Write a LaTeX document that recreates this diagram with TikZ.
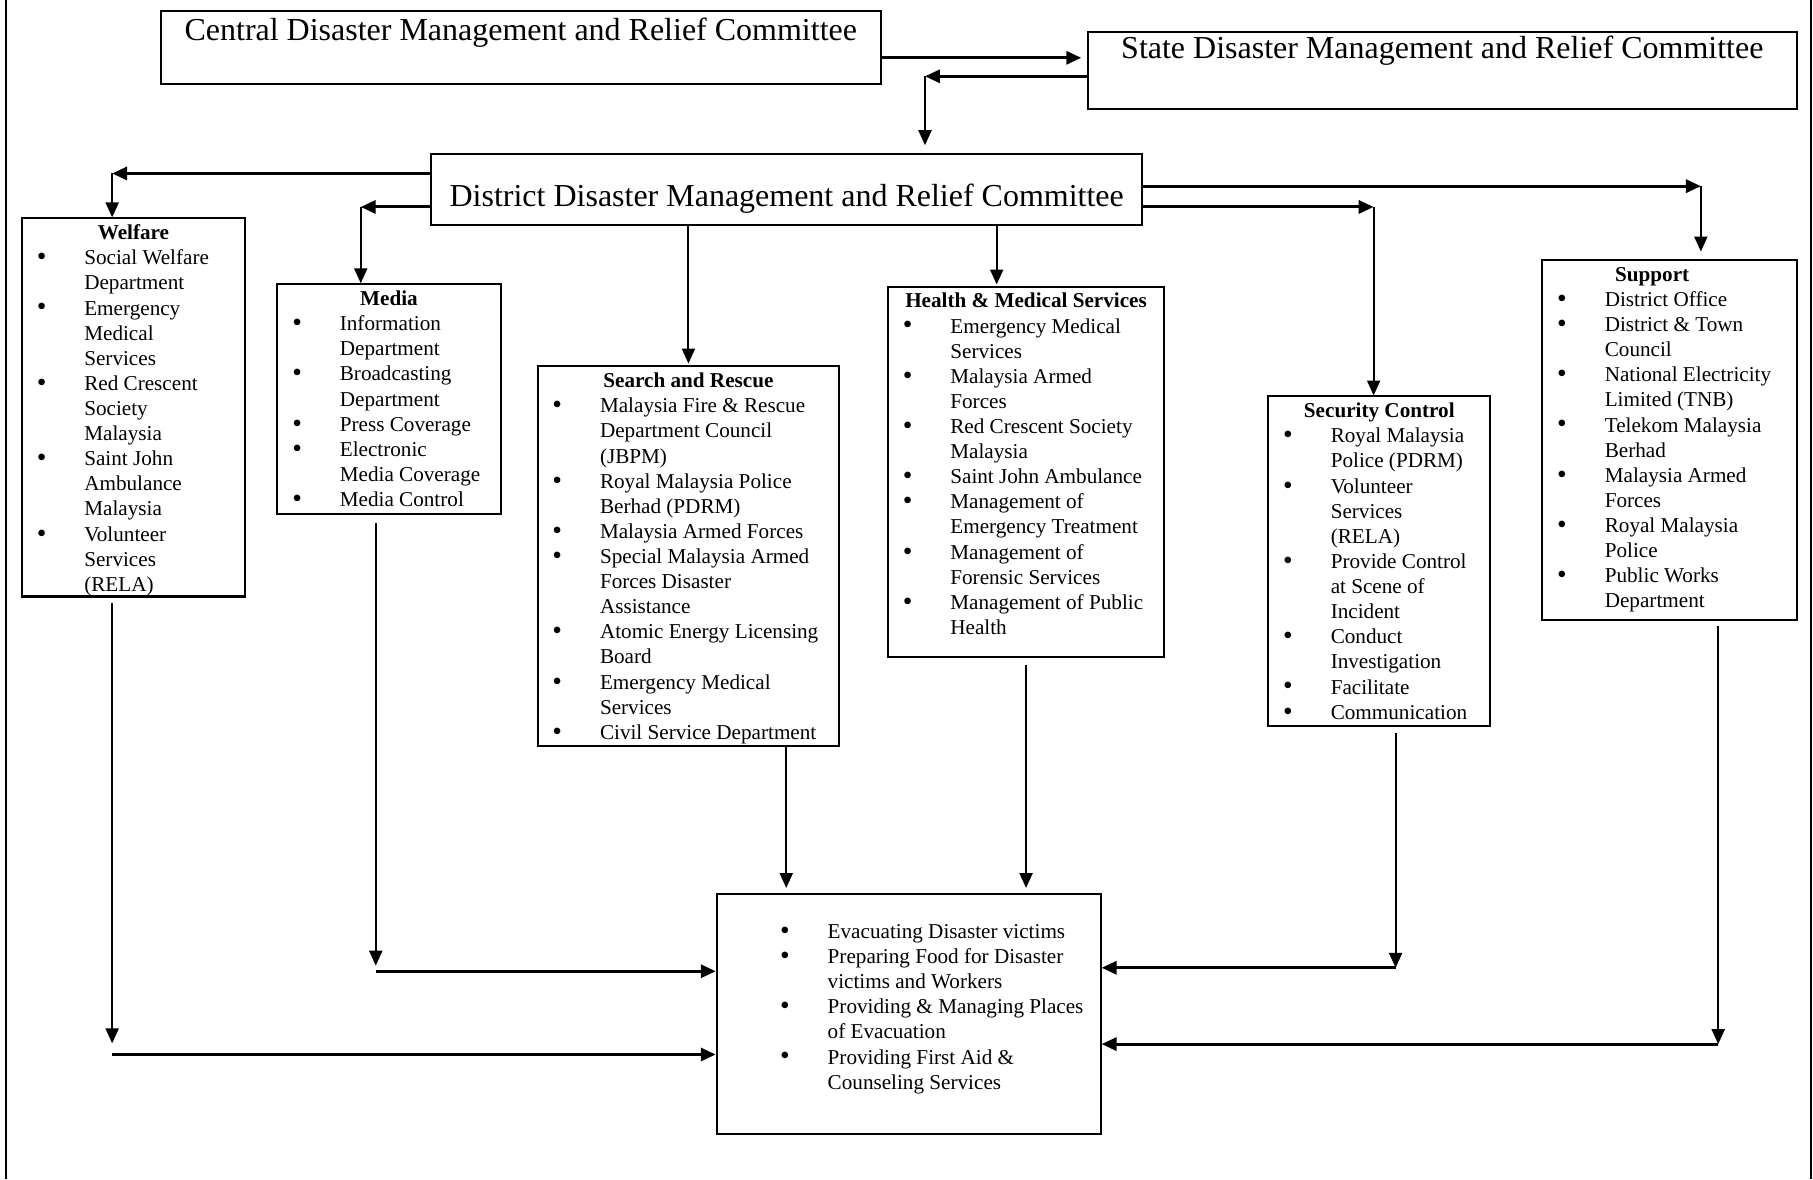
\documentclass[tikz,border=0pt]{standalone}
\usepackage{fontspec}
\setmainfont{Liberation Serif}
\usetikzlibrary{positioning,calc,arrows.meta}
\tikzset{>={Triangle[length=8pt,width=7pt]}}

\newlength\pxu
\setlength\pxu{0.62pt}
\newcommand{\ttl}[1]{{\centering\textbf{#1}\strut\par}}
\newcommand{\dotb}{\raisebox{-0.5pt}{\scalebox{1.3}{\textbullet}}}
\newcommand{\itm}[1]{\par\hangindent=33.5pt\hangafter=1\noindent\makebox[33.5pt][l]{\hspace{8pt}\dotb}#1}

\begin{document}
\begin{tikzpicture}[x=0.62pt,y=-0.62pt,
  top/.style={draw,line width=1.1pt,inner sep=0pt,anchor=north west,font=\fontsize{17.15}{20}\selectfont},
  grp/.style={draw,line width=1.1pt,inner sep=0pt,anchor=north west,font=\fontsize{11.35}{13.47}\selectfont,text height=11.4pt},
  ln/.style={line width=1pt},
  hl/.style={line width=1.6pt}]
\useasboundingbox (0,0) rectangle (1568,1020);
% page frame
\draw[line width=1.2pt] (5,0) -- (5,1020);
\draw[line width=1.2pt] (1566,0) -- (1566,1020);

% committees
\node[top,minimum width=623*\pxu,text height=15.5pt,text depth=63*\pxu-15.5pt] (central) at (138,9) {Central Disaster Management and Relief Committee};
\node[top,minimum width=613*\pxu,text height=14.3pt,text depth=66*\pxu-14.3pt] (state) at (940,27) {State Disaster Management and Relief Committee};
\node[top,minimum width=615*\pxu,text height=28.6pt,text depth=62*\pxu-28.6pt] (district) at (372,132) {District Disaster Management and Relief Committee};

% groups
\node[grp,text depth=327*\pxu-11.4pt] (welfare) at (18,188) {\parbox[t]{193\pxu}{\ttl{Welfare}%
  \itm{Social Welfare\\Department}\itm{Emergency\\Medical\\Services}\itm{Red Crescent\\Society\\Malaysia}%
  \itm{Saint John\\Ambulance\\Malaysia}\itm{Volunteer\\Services\\(RELA)}}};
\node[grp,text depth=199*\pxu-11.4pt] (media) at (239,245) {\parbox[t]{193\pxu}{\ttl{Media}%
  \itm{Information\\Department}\itm{Broadcasting\\Department}\itm{Press Coverage}%
  \itm{Electronic\\Media Coverage}\itm{Media Control}}};
\node[grp,text depth=328*\pxu-11.4pt] (sar) at (464,316) {\parbox[t]{261\pxu}{\ttl{Search and Rescue}%
  \itm{Malaysia Fire \& Rescue\\Department Council\\(JBPM)}\itm{Royal Malaysia Police\\Berhad (PDRM)}%
  \itm{Malaysia Armed Forces}\itm{Special Malaysia Armed\\Forces Disaster\\Assistance}%
  \itm{Atomic Energy Licensing\\Board}\itm{Emergency Medical\\Services}\itm{Civil Service Department}}};
\node[grp,text depth=320*\pxu-11.4pt] (health) at (767,247) {\parbox[t]{239\pxu}{\ttl{Health \& Medical Services}%
  \itm{Emergency Medical\\Services}\itm{Malaysia Armed\\Forces}\itm{Red Crescent Society\\Malaysia}%
  \itm{Saint John Ambulance}\itm{Management of\\Emergency Treatment}\itm{Management of\\Forensic Services}%
  \itm{Management of Public\\Health}}};
\node[grp,text depth=285*\pxu-11.4pt] (security) at (1096,342) {\parbox[t]{192\pxu}{\ttl{Security Control}%
  \itm{Royal Malaysia\\Police (PDRM)}\itm{Volunteer\\Services\\(RELA)}\itm{Provide Control\\at Scene of\\Incident}%
  \itm{Conduct\\Investigation}\itm{Facilitate}\itm{Communication}}};
\node[grp,text depth=311*\pxu-11.4pt] (support) at (1333,224) {\parbox[t]{220\pxu}{\ttl{Support\hspace*{30\pxu}}%
  \itm{District Office}\itm{District \& Town\\Council}\itm{National Electricity\\Limited (TNB)}%
  \itm{Telekom Malaysia\\Berhad}\itm{Malaysia Armed\\Forces}\itm{Royal Malaysia\\Police}\itm{Public Works\\Department}}};
\node[grp,text height=24pt,text depth=208*\pxu-24pt] (tasks) at (619,772) {\parbox[t]{332\pxu}{\leftskip=26pt
  \itm{Evacuating Disaster victims}\itm{Preparing Food for Disaster\\victims and Workers}%
  \itm{Providing \& Managing Places\\of Evacuation}\itm{Providing First Aid \&\\Counseling Services}}};

% bends
\coordinate (sbend) at (800,66);
\coordinate (wtop) at (97,150);
\coordinate (mtop) at (312,179);
\coordinate (hx) at (862,246);
\coordinate (sctop) at (1188,179);
\coordinate (sptop) at (1471,161);
\coordinate (sx) at (680,644);
\coordinate (wbot) at (97,912);
\coordinate (mbot) at (325,840);
\coordinate (scbot) at (1207,837);
\coordinate (spbot) at (1486,903);

% top level
\draw[->,line width=1.5pt,shorten >=3pt] (central.east |- 0,50) -- (state.west |- 0,50);
\draw[->,line width=1.5pt] (state.west |- sbend) -- (sbend);
\draw[->,ln,shorten >=4pt] (sbend) -- (sbend |- district.north);

% district to groups
\draw[->,hl] (district.west |- wtop) -- (wtop);
\draw[->,ln] (wtop) -- (wtop |- welfare.north);
\draw[->,hl] (district.west |- mtop) -- (mtop);
\draw[->,ln] (mtop) -- (mtop |- media.north);
\draw[->,ln,shorten >=1pt] (district.south -| sar.north) -- (sar.north);
\draw[->,ln] (hx |- district.south) -- (hx);
\draw[->,hl] (district.east |- sctop) -- (sctop);
\draw[->,ln] (sctop) -- (sctop |- security.north);
\draw[->,hl] (district.east |- sptop) -- (sptop);
\draw[->,ln,shorten >=4pt] (sptop) -- (sptop |- support.north);

% groups to tasks
\draw[->,ln,shorten <=4pt,shorten >=3pt] (mbot |- media.south) -- (mbot);
\draw[->,hl] (mbot) -- (mbot -| tasks.west);
\draw[->,ln,shorten <=3pt,shorten >=6pt] (wbot |- welfare.south) -- (wbot);
\draw[->,hl] (wbot) -- (wbot -| tasks.west);
\draw[->,ln,shorten >=2.5pt] (sx) -- (sx |- tasks.north);
\draw[->,ln,shorten <=4pt,shorten >=2.5pt] (health.south) -- (health.south |- tasks.north);
\draw[->,ln,shorten <=3pt] (scbot |- security.south) -- (scbot);
\draw[->,hl] (scbot) -- (scbot -| tasks.east);
\draw[->,ln,shorten <=3pt] (spbot |- support.south) -- (spbot);
\draw[->,hl] (spbot) -- (spbot -| tasks.east);
\end{tikzpicture}
\end{document}
